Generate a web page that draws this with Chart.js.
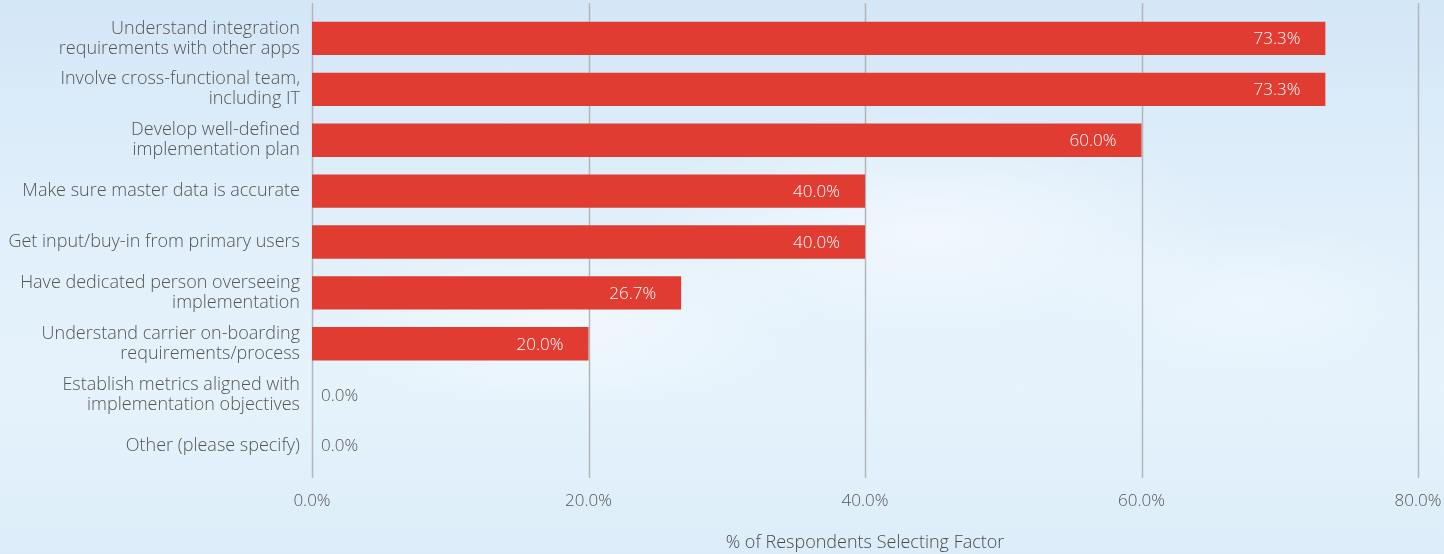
<!DOCTYPE html>
<html>
<head>
<meta charset="utf-8">
<script src="https://cdn.jsdelivr.net/npm/chart.js@4/dist/chart.umd.min.js"></script>
<style>
  html, body { margin: 0; padding: 0; }
  body {
    width: 1444px; height: 554px; overflow: hidden;
    background:
      radial-gradient(ellipse 300px 120px at 930px 230px, rgba(255,255,255,0.55), rgba(255,255,255,0)),
      radial-gradient(ellipse 260px 90px at 560px 320px, rgba(255,255,255,0.5), rgba(255,255,255,0)),
      radial-gradient(ellipse 200px 80px at 1250px 300px, rgba(255,255,255,0.35), rgba(255,255,255,0)),
      linear-gradient(180deg, #d4e7f7 0%, #e2f0fb 45%, #e6f3fc 70%, #dcedf9 100%);
  }
  #wrap { position: relative; width: 1444px; height: 554px; }
</style>
</head>
<body>
<div id="wrap"><canvas id="chart" width="1444" height="554"></canvas></div>
<script>
var categories = [
  ["Understand integration", "requirements with other apps"],
  ["Involve cross-functional team,", "including IT"],
  ["Develop well-defined", "implementation plan"],
  "Make sure master data is accurate",
  "Get input/buy-in from primary users",
  ["Have dedicated person overseeing", "implementation"],
  ["Understand carrier on-boarding", "requirements/process"],
  ["Establish metrics aligned with", "implementation objectives"],
  "Other (please specify)"
]
var values = [73.3, 73.3, 60.0, 40.0, 40.0, 26.7, 20.0, 0.0, 0.0]
var xTicks = [0, 20, 40, 60, 80]
var axisTitle = "% of Respondents Selecting Factor"

var fontFamily = "'Open Sans', Lato, sans-serif"
var textColor = "#555555"

// vertical grid lines, a bit taller than the bar area
var gridPlugin = {
  id: "gridLines",
  beforeDatasetsDraw: (chart) => {
    var ctx = chart.ctx
    var x = chart.scales.x
    var area = chart.chartArea
    ctx.save()
    ctx.strokeStyle = "#b3b6b9"
    ctx.lineWidth = 1.5
    xTicks.forEach( t => {
      var px = Math.round(x.getPixelForValue(t)) + 0.5
      ctx.beginPath()
      ctx.moveTo(px, area.top - 10)
      ctx.lineTo(px, area.bottom + 7)
      ctx.stroke()
    })
    ctx.restore()
  }
}

// value labels on the bars
var labelPlugin = {
  id: "valueLabels",
  afterDatasetsDraw: (chart) => {
    var ctx = chart.ctx
    var meta = chart.getDatasetMeta(0)
    ctx.save()
    ctx.font = "300 17px " + fontFamily
    ctx.textBaseline = "middle"
    meta.data.forEach( (bar, i) => {
      var txt = values[i].toFixed(1) + "%"
      if (values[i] > 0) {
        ctx.fillStyle = "#ffffff"
        ctx.textAlign = "right"
        ctx.fillText(txt, bar.x - 25, bar.y + 1)
      } else {
        ctx.fillStyle = textColor
        ctx.textAlign = "left"
        ctx.fillText(txt, bar.x + 9, bar.y + 1)
      }
    })
    ctx.restore()
  }
}

new Chart(document.getElementById("chart"), {
  type: "bar",
  data: {
    labels: categories,
    datasets: [{
      data: values,
      backgroundColor: "#e13c32",
      borderWidth: 0,
      barPercentage: 0.655,
      categoryPercentage: 1.0
    }]
  },
  options: {
    indexAxis: "y",
    responsive: false,
    animation: false,
    layout: { padding: { top: 13, right: 26, left: 0, bottom: 0 } },
    plugins: {
      legend: { display: false },
      tooltip: { enabled: false }
    },
    scales: {
      y: {
        grid: { display: false, drawTicks: false },
        border: { display: false },
        afterFit: (s) => { s.width = 312; s.paddingTop = 0; s.paddingBottom = 0 },
        ticks: {
          padding: 12,
          color: textColor,
          font: { family: fontFamily, size: 18, weight: 300, lineHeight: 1.11 }
        }
      },
      x: {
        min: 0,
        max: 80,
        grid: { display: false, drawTicks: false },
        border: { display: false },
        afterFit: (s) => { s.height = 83; s.paddingLeft = 0; s.paddingRight = 0 },
        afterBuildTicks: (s) => { s.ticks = xTicks.map( v => ({ value: v }) ) },
        ticks: {
          padding: 20,
          color: textColor,
          font: { family: fontFamily, size: 17, weight: 300 },
          callback: (v) => Number(v).toFixed(1) + "%"
        },
        title: {
          display: true,
          text: axisTitle,
          color: "#4a4a4a",
          padding: { top: 0, bottom: 0 },
          font: { family: fontFamily, size: 18, weight: 300, lineHeight: 1.2 }
        }
      }
    }
  },
  plugins: [gridPlugin, labelPlugin]
})
</script>
</body>
</html>
